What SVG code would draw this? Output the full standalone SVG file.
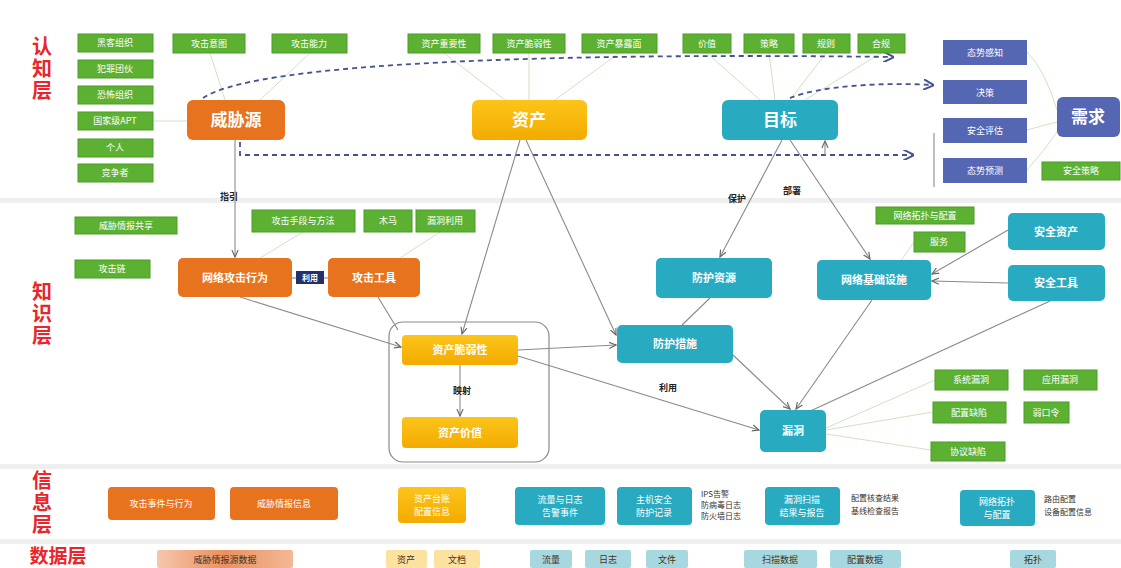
<svg xmlns="http://www.w3.org/2000/svg" width="1121" height="568" viewBox="0 0 1121 568">
<defs>
<marker id="ar" viewBox="0 0 10 10" refX="9" refY="5" markerWidth="7" markerHeight="7" orient="auto-start-reverse"><path d="M0,1 L9,5 L0,9" fill="none" stroke="#666" stroke-width="1.5"/></marker>
<marker id="ad" viewBox="0 0 10 10" refX="9" refY="5" markerWidth="6" markerHeight="6" orient="auto"><path d="M0,0 L10,5 L0,10" fill="none" stroke="#44528f" stroke-width="1.8"/></marker>
<linearGradient id="gy" x1="0" y1="0" x2="0" y2="1"><stop offset="0" stop-color="#fcc41a"/><stop offset="1" stop-color="#f3ab00"/></linearGradient>
<linearGradient id="gs" x1="0" y1="0" x2="1" y2="0"><stop offset="0" stop-color="#f6c6ad"/><stop offset="0.5" stop-color="#e9915e"/><stop offset="1" stop-color="#f3b896"/></linearGradient>
</defs>
<style>
.g{fill:#5cb132;stroke:#4c9c26;stroke-width:1}
.o{fill:#e8731e}
.y{fill:url(#gy)}
.t{fill:#28abc1}
.p{fill:#5566b3}
.dl{fill:url(#gs)}
.dy{fill:#fbe2a0}
.dt{fill:#a7d8df}
text{font-family:"Noto Sans CJK SC","Noto Sans",sans-serif;text-anchor:middle}
.tw{fill:#fff;font-size:9px}
.tb{fill:#fff;font-size:11px;font-weight:bold}
.tl{fill:#fff;font-size:17px;font-weight:bold}
.lab{fill:#e8262b;font-size:20px;font-weight:bold}
.vl{writing-mode:vertical-rl;letter-spacing:2px}
.el{fill:#222;font-size:9px;font-weight:bold}
.side{fill:#333;font-size:8px;text-anchor:start}
.dtx{fill:#4a3020;font-size:9px}
.line{stroke:#8a8a8a;stroke-width:1.1;fill:none}
.faint{stroke:#cfe3c2;stroke-width:1;fill:none}
.dash{stroke:#44528f;stroke-width:1.8;stroke-dasharray:5 4;fill:none}
</style>
<rect width="1121" height="568" fill="#fff"/>
<g id="bands">
<rect x="0" y="198" width="1121" height="5" fill="#efefef"/>
<rect x="0" y="464" width="1121" height="5" fill="#efefef"/>
<rect x="0" y="539" width="1121" height="5" fill="#efefef"/>
</g>
<g id="layer-labels">
<text class="lab vl" x="42" y="69">认知层</text>
<text class="lab vl" x="42" y="314">知识层</text>
<text class="lab vl" x="42" y="503">信息层</text>
<text class="lab" x="58" y="563" style="font-size:19px">数据层</text>
</g>
<g id="connectors">
<path class="faint" d="M153,121 L187,121"/>
<path class="faint" d="M210,53 L225,100"/>
<path class="faint" d="M310,53 L260,100"/>
<path class="faint" d="M444,53 L505,100"/>
<path class="faint" d="M529,53 L529,100"/>
<path class="faint" d="M619,53 L555,100"/>
<path class="faint" d="M707,53 L760,100"/>
<path class="faint" d="M769,53 L775,100"/>
<path class="faint" d="M826,53 L790,100"/>
<path class="faint" d="M881,53 L805,100"/>
<path class="faint" d="M1027,52 Q1045,70 1057,110"/>
<path class="faint" d="M1027,130 Q1045,125 1057,122"/>
<path class="faint" d="M1027,170 Q1045,150 1057,132"/>
<path class="faint" d="M303,232 L260,258"/>
<path class="faint" d="M440,232 L400,258"/>
<path class="faint" d="M914,242 L900,262"/>
<path class="faint" d="M935,380 L826,428"/>
<path class="faint" d="M933,412 L826,430"/>
<path class="faint" d="M931,450 L826,434"/>
<path class="dash" d="M203,98 C250,66 500,52 893,57" marker-end="url(#ad)"/>
<path class="dash" d="M790,98 C820,86 880,82 933,85" marker-end="url(#ad)"/>
<path class="dash" d="M240,142 L240,155 L913,155" marker-end="url(#ad)"/>
<path class="line" d="M825,155 L825,141" marker-end="url(#ar)"/>
<path class="line" d="M934,133 L934,187"/>
<path class="line" d="M235,140 L235,257" marker-end="url(#ar)"/>
<path class="line" d="M292,278 L296,278"/>
<path class="line" d="M324,278 L328,278"/>
<path class="line" d="M240,297 L401,347" marker-end="url(#ar)"/>
<path class="line" d="M378,297 L398,330"/>
<path class="line" d="M520,140 L462,334" marker-end="url(#ar)"/>
<path class="line" d="M526,140 L616,335" marker-end="url(#ar)"/>
<path class="line" d="M518,350 L616,345" marker-end="url(#ar)"/>
<path class="line" d="M518,356 L759,430" marker-end="url(#ar)"/>
<path class="line" d="M460,365 L460,416" marker-end="url(#ar)"/>
<path class="line" d="M782,140 L720,257" marker-end="url(#ar)"/>
<path class="line" d="M790,140 L870,259" marker-end="url(#ar)"/>
<path class="line" d="M710,298 L682,325"/>
<path class="line" d="M733,355 L790,409" marker-end="url(#ar)"/>
<path class="line" d="M872,300 L796,409" marker-end="url(#ar)"/>
<path class="line" d="M1050,301 L806,413"/>
<path class="line" d="M1008,230 L932,274" marker-end="url(#ar)"/>
<path class="line" d="M1008,283 L932,281" marker-end="url(#ar)"/>
<rect x="389" y="322" width="160" height="140" rx="14" fill="none" stroke="#8a8a8a" stroke-width="1.2"/>
<text class="el" x="229" y="200">指引</text>
<text class="el" x="737" y="202">保护</text>
<text class="el" x="792" y="194">部署</text>
<text class="el" x="668" y="391">利用</text>
<text class="el" x="462" y="394">映射</text>
<rect x="296" y="271" width="28" height="13" fill="#23306a"/>
<text class="tw" x="310" y="281" style="font-size:8px;font-weight:bold">利用</text>
</g>
<g id="cog-green">
<rect class="g" x="78" y="34" width="75" height="18"/><text class="tw" x="115" y="46">黑客组织</text>
<rect class="g" x="78" y="60" width="75" height="18"/><text class="tw" x="115" y="72">犯罪团伙</text>
<rect class="g" x="78" y="86" width="75" height="18"/><text class="tw" x="115" y="98">恐怖组织</text>
<rect class="g" x="78" y="112" width="75" height="18"/><text class="tw" x="115" y="124">国家级APT</text>
<rect class="g" x="78" y="139" width="75" height="18"/><text class="tw" x="115" y="151">个人</text>
<rect class="g" x="78" y="164" width="75" height="18"/><text class="tw" x="115" y="176">竞争者</text>
<rect class="g" x="173" y="34" width="72" height="19"/><text class="tw" x="209" y="47">攻击意图</text>
<rect class="g" x="272" y="34" width="75" height="19"/><text class="tw" x="309" y="47">攻击能力</text>
<rect class="g" x="408" y="34" width="72" height="19"/><text class="tw" x="444" y="47">资产重要性</text>
<rect class="g" x="493" y="34" width="72" height="19"/><text class="tw" x="529" y="47">资产脆弱性</text>
<rect class="g" x="582" y="34" width="75" height="19"/><text class="tw" x="619" y="47">资产暴露面</text>
<rect class="g" x="683" y="34" width="48" height="19"/><text class="tw" x="707" y="47">价值</text>
<rect class="g" x="744" y="34" width="50" height="19"/><text class="tw" x="769" y="47">策略</text>
<rect class="g" x="803" y="34" width="47" height="19"/><text class="tw" x="826" y="47">规则</text>
<rect class="g" x="858" y="34" width="47" height="19"/><text class="tw" x="881" y="47">合规</text>
<rect class="g" x="1042" y="162" width="78" height="18"/><text class="tw" x="1081" y="174">安全策略</text>
</g>
<g id="n-threat"><rect class="o" x="187" y="100" width="98" height="40" rx="6"/><text class="tl" x="236" y="126">威胁源</text></g>
<g id="n-asset"><rect class="y" x="472" y="100" width="115" height="40" rx="6"/><text class="tl" x="529" y="126">资产</text></g>
<g id="n-target"><rect class="t" x="722" y="100" width="116" height="40" rx="6"/><text class="tl" x="780" y="126">目标</text></g>
<g id="n-purple">
<rect class="p" x="943" y="40" width="84" height="25"/><text class="tw" x="985" y="56">态势感知</text>
<rect class="p" x="943" y="80" width="84" height="24"/><text class="tw" x="985" y="96">决策</text>
<rect class="p" x="943" y="118" width="84" height="25"/><text class="tw" x="985" y="134">安全评估</text>
<rect class="p" x="943" y="158" width="84" height="25"/><text class="tw" x="985" y="174">态势预测</text>
</g>
<g id="n-demand"><rect class="p" x="1057" y="97" width="63" height="40" rx="6"/><text class="tl" x="1088" y="123">需求</text></g>
<g id="know-green">
<rect class="g" x="75" y="217" width="102" height="17"/><text class="tw" x="126" y="229">威胁情报共享</text>
<rect class="g" x="75" y="260" width="75" height="18"/><text class="tw" x="112" y="272">攻击链</text>
<rect class="g" x="252" y="210" width="103" height="22"/><text class="tw" x="303" y="224">攻击手段与方法</text>
<rect class="g" x="364" y="210" width="48" height="22"/><text class="tw" x="388" y="224">木马</text>
<rect class="g" x="416" y="210" width="59" height="22"/><text class="tw" x="445" y="224">漏洞利用</text>
<rect class="g" x="876" y="207" width="98" height="17"/><text class="tw" x="925" y="219">网络拓扑与配置</text>
<rect class="g" x="914" y="232" width="51" height="20"/><text class="tw" x="939" y="245">服务</text>
<rect class="g" x="935" y="370" width="73" height="20"/><text class="tw" x="971" y="383">系统漏洞</text>
<rect class="g" x="1024" y="370" width="73" height="20"/><text class="tw" x="1060" y="383">应用漏洞</text>
<rect class="g" x="933" y="402" width="73" height="21"/><text class="tw" x="969" y="416">配置缺陷</text>
<rect class="g" x="1024" y="402" width="45" height="21"/><text class="tw" x="1046" y="416">弱口令</text>
<rect class="g" x="931" y="442" width="74" height="19"/><text class="tw" x="968" y="455">协议缺陷</text>
</g>
<g id="n-attack"><rect class="o" x="178" y="258" width="114" height="39" rx="5"/><text class="tb" x="235" y="282">网络攻击行为</text></g>
<g id="n-tool"><rect class="o" x="328" y="258" width="92" height="39" rx="5"/><text class="tb" x="374" y="282">攻击工具</text></g>
<g id="n-vuln-asset"><rect class="y" x="402" y="335" width="116" height="30" rx="4"/><text class="tb" x="460" y="354">资产脆弱性</text></g>
<g id="n-asset-value"><rect class="y" x="402" y="417" width="116" height="31" rx="4"/><text class="tb" x="460" y="437">资产价值</text></g>
<g id="n-protect-res"><rect class="t" x="656" y="258" width="116" height="40" rx="5"/><text class="tb" x="714" y="282">防护资源</text></g>
<g id="n-infra"><rect class="t" x="817" y="260" width="114" height="40" rx="5"/><text class="tb" x="874" y="284">网络基础设施</text></g>
<g id="n-sec-asset"><rect class="t" x="1008" y="213" width="97" height="37" rx="5"/><text class="tb" x="1056" y="236">安全资产</text></g>
<g id="n-sec-tool"><rect class="t" x="1008" y="265" width="97" height="36" rx="5"/><text class="tb" x="1056" y="287">安全工具</text></g>
<g id="n-measure"><rect class="t" x="617" y="325" width="116" height="38" rx="5"/><text class="tb" x="675" y="348">防护措施</text></g>
<g id="n-vuln"><rect class="t" x="760" y="410" width="66" height="42" rx="5"/><text class="tb" x="793" y="435">漏洞</text></g>
<g id="info">
<rect class="o" x="108" y="487" width="107" height="33" rx="4"/><text class="tw" x="161" y="507">攻击事件与行为</text>
<rect class="o" x="230" y="487" width="108" height="33" rx="4"/><text class="tw" x="284" y="507">威胁情报信息</text>
<rect class="y" x="398" y="487" width="68" height="36" rx="4"/><text class="tw" x="432" y="502">资产台账</text><text class="tw" x="432" y="515">配置信息</text>
<rect class="t" x="515" y="487" width="90" height="38" rx="4"/><text class="tw" x="560" y="503">流量与日志</text><text class="tw" x="560" y="516">告警事件</text>
<rect class="t" x="617" y="487" width="75" height="38" rx="4"/><text class="tw" x="654" y="503">主机安全</text><text class="tw" x="654" y="516">防护记录</text>
<text class="side" x="701" y="497">IPS告警</text><text class="side" x="701" y="508">防病毒日志</text><text class="side" x="701" y="519">防火墙日志</text>
<rect class="t" x="765" y="487" width="75" height="38" rx="4"/><text class="tw" x="802" y="503">漏洞扫描</text><text class="tw" x="802" y="516">结果与报告</text>
<text class="side" x="851" y="501">配置核查结果</text><text class="side" x="851" y="514">基线检查报告</text>
<rect class="t" x="960" y="490" width="75" height="36" rx="4"/><text class="tw" x="997" y="505">网络拓扑</text><text class="tw" x="997" y="518">与配置</text>
<text class="side" x="1044" y="502">路由配置</text><text class="side" x="1044" y="515">设备配置信息</text>
</g>
<g id="data">
<rect class="dl" x="157" y="550" width="136" height="18" rx="2"/><text class="dtx" x="225" y="563">威胁情报源数据</text>
<rect class="dy" x="386" y="550" width="41" height="18" rx="2"/><text class="dtx" x="406" y="563">资产</text>
<rect class="dy" x="434" y="550" width="46" height="18" rx="2"/><text class="dtx" x="457" y="563">文档</text>
<rect class="dt" x="530" y="550" width="42" height="18" rx="2"/><text class="dtx" x="551" y="563">流量</text>
<rect class="dt" x="585" y="550" width="46" height="18" rx="2"/><text class="dtx" x="608" y="563">日志</text>
<rect class="dt" x="646" y="550" width="42" height="18" rx="2"/><text class="dtx" x="667" y="563">文件</text>
<rect class="dt" x="744" y="550" width="73" height="18" rx="2"/><text class="dtx" x="780" y="563">扫描数据</text>
<rect class="dt" x="830" y="550" width="71" height="18" rx="2"/><text class="dtx" x="865" y="563">配置数据</text>
<rect class="dt" x="1010" y="550" width="46" height="18" rx="2"/><text class="dtx" x="1033" y="563">拓扑</text>
</g>
</svg>
